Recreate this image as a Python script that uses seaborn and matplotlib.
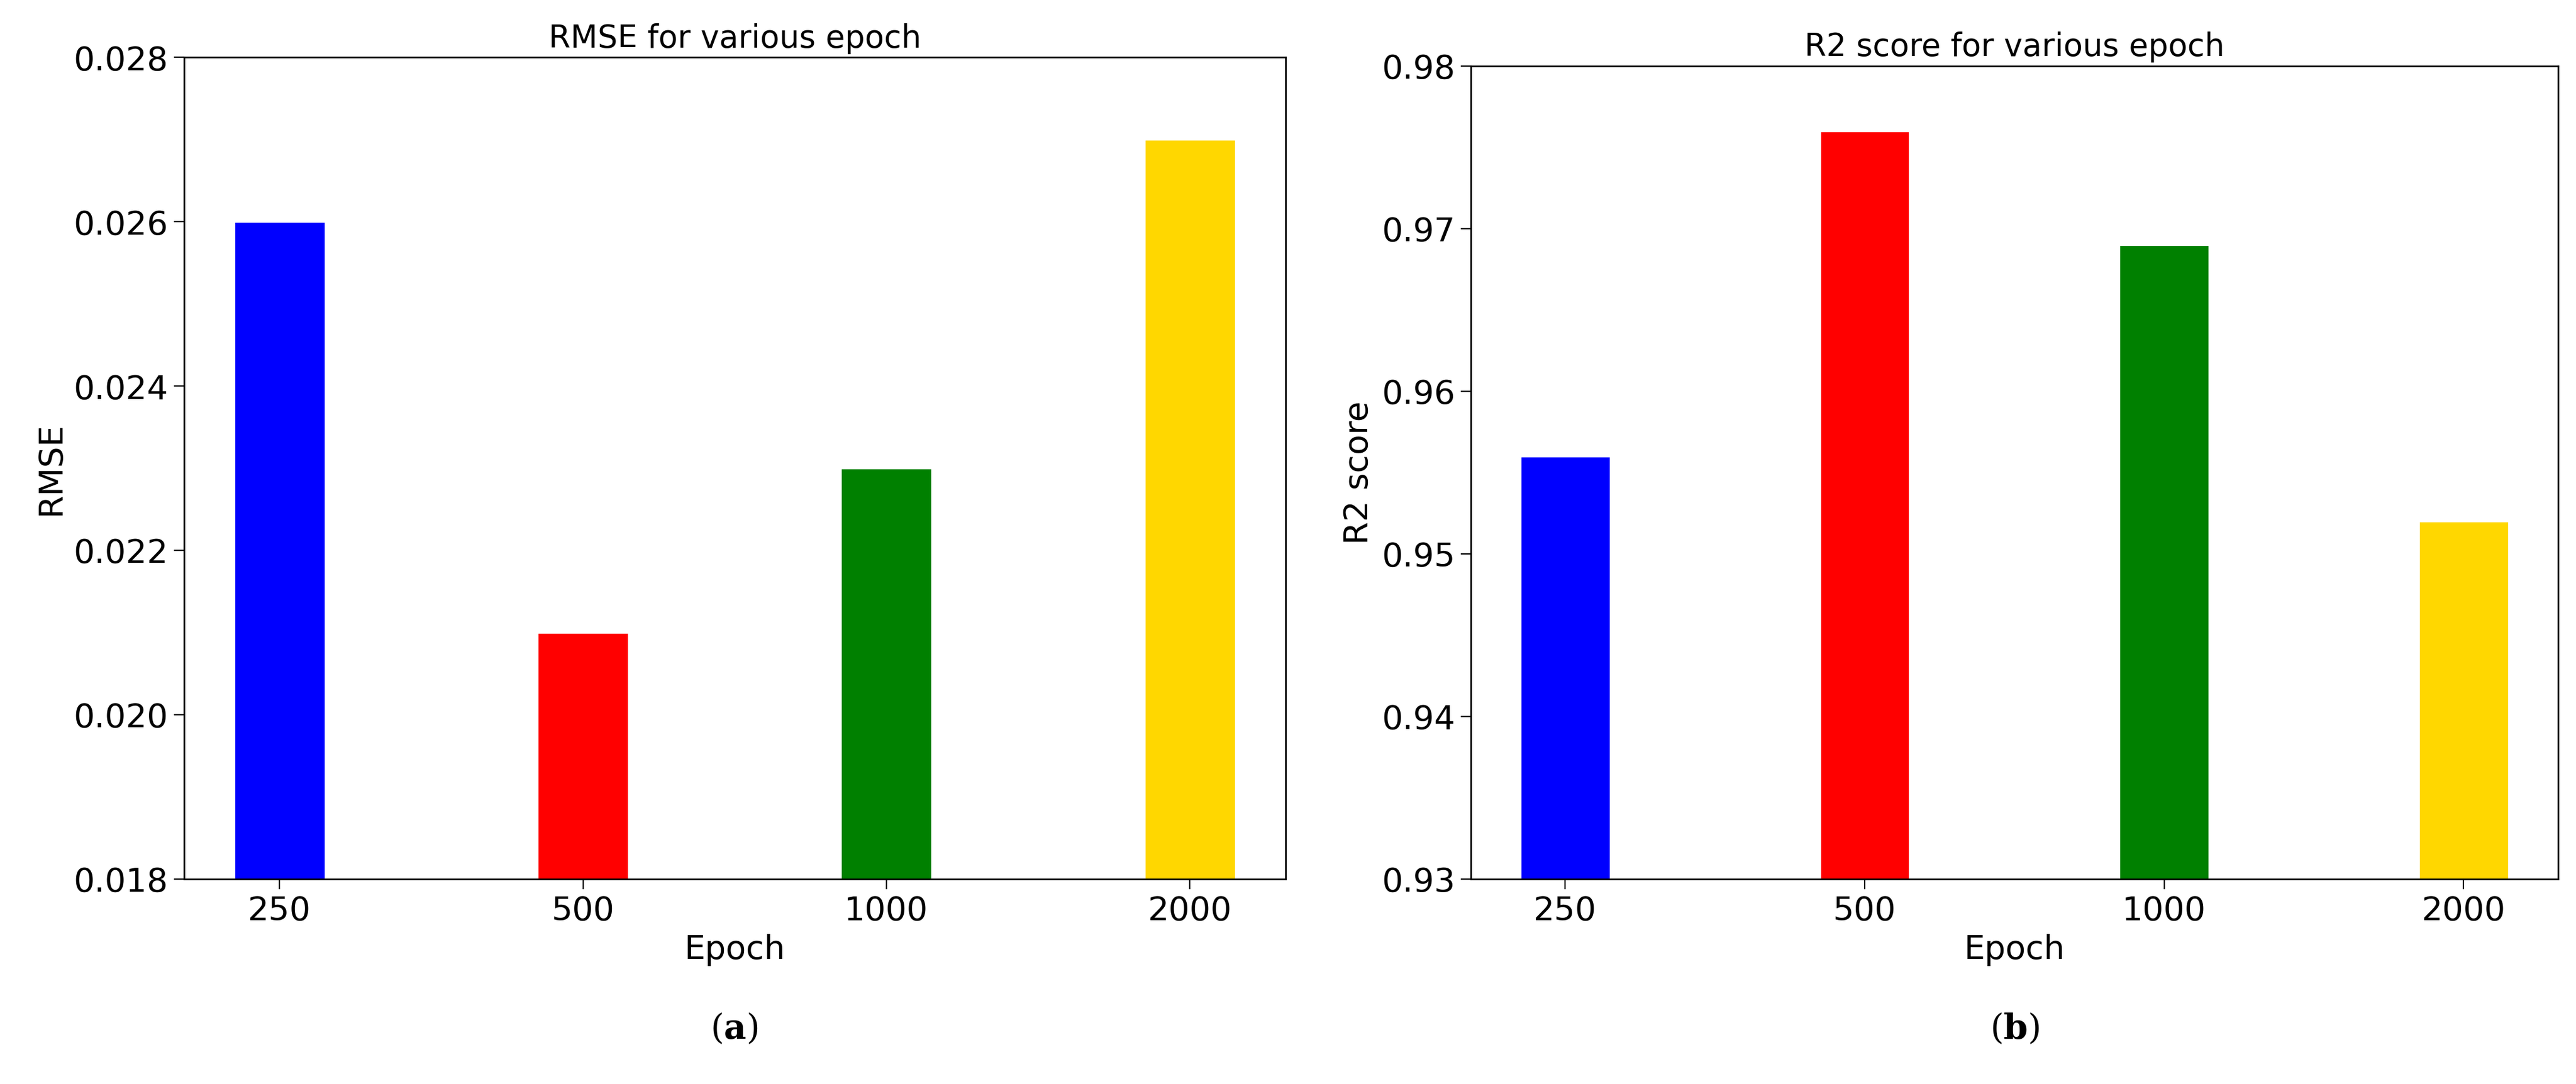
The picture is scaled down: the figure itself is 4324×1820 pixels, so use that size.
import matplotlib
matplotlib.use("Agg")
import matplotlib.pyplot as plt
import seaborn as sns

epochs = ["250", "500", "1000", "2000"]
rmse = [0.026, 0.021, 0.023, 0.027]
r2 = [0.956, 0.976, 0.969, 0.952]
colors = ["#0000ff", "#ff0000", "#008000", "#ffd700"]

sns.set_style("ticks")
plt.rcParams['font.family'] = ['DejaVu Sans']
plt.rcParams['mathtext.fontset'] = 'dejavuserif'
plt.rcParams['text.color'] = 'black'
plt.rcParams['axes.labelcolor'] = 'black'
plt.rcParams['xtick.color'] = 'black'
plt.rcParams['ytick.color'] = 'black'
plt.rcParams['axes.edgecolor'] = 'black'

fig = plt.figure(figsize=(21.62, 9.1), dpi=200)
ax1 = fig.add_axes([0.0714, 0.189, 0.4276, 0.758])
ax2 = fig.add_axes([0.571, 0.189, 0.422, 0.750])


def draw(ax, vals, ylim, ylabel, title, fmt):
    sns.barplot(x=epochs, y=vals, hue=epochs, palette=colors, width=0.3,
                legend=False, ax=ax, saturation=1)
    ax.set_ylim(*ylim)
    ax.set_xlim(-0.315, 3.315)
    ax.set_xlabel("Epoch", fontsize=20)
    ax.set_ylabel(ylabel, fontsize=20)
    ax.set_title(title, fontsize=19)
    ax.tick_params(labelsize=20, length=6)
    ax.yaxis.set_major_formatter(matplotlib.ticker.FormatStrFormatter(fmt))
    for s in ax.spines.values():
        s.set_visible(True)
        s.set_linewidth(1)


draw(ax1, rmse, (0.018, 0.028), "RMSE", "RMSE for various epoch", "%.3f")
draw(ax2, r2, (0.93, 0.98), "R2 score", "R2 score for various epoch", "%.2f")

fig.text(0.285, 0.042, r"($\mathbf{a}$)", ha="center", fontsize=21, family="serif")
fig.text(0.782, 0.042, r"($\mathbf{b}$)", ha="center", fontsize=21, family="serif")

fig.savefig("out.png", dpi=200)
